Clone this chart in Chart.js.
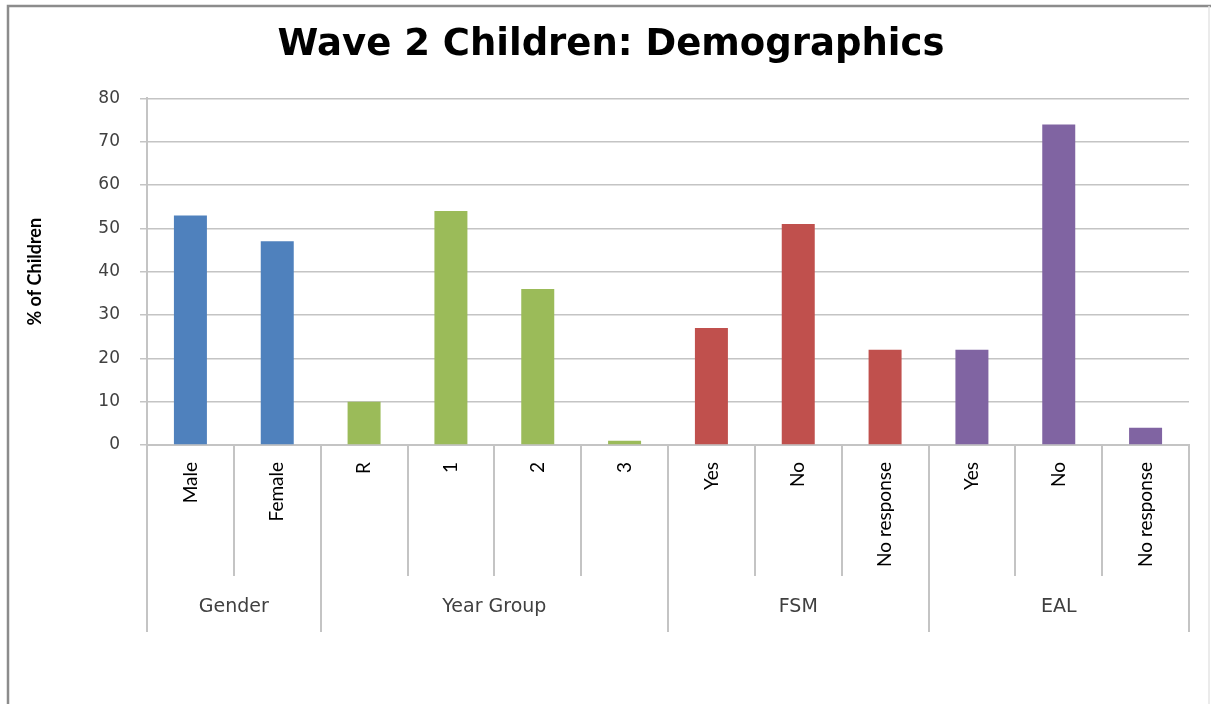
<!DOCTYPE html>
<html>
<head>
<meta charset="utf-8">
<script src="https://cdn.jsdelivr.net/npm/chart.js@4/dist/chart.umd.min.js"></script>
<style>
  html, body { margin: 0; padding: 0; background: #fff; }
  #wrap { width: 1211px; height: 704px; position: relative; }
</style>
</head>
<body>
<div id="wrap"><canvas id="demoChart"></canvas></div>
<script>
const categories = ['Male', 'Female', 'R', '1', '2', '3', 'Yes', 'No', 'No response', 'Yes', 'No', 'No response'];
const values = [53, 47, 10, 54, 36, 1, 27, 51, 22, 22, 74, 4];
const groups = ['Gender', 'Year Group', 'FSM', 'EAL'];
const groupSizes = [2, 4, 3, 3];
const groupColors = ['#4f81bd', '#9bbb59', '#c0504d', '#8064a2'];

// colour of each bar comes from the group it belongs to
const barColors = [];
groupSizes.forEach((n, g) => { for (let i = 0; i < n; i++) barColors.push(groupColors[g]); });

// frame round the whole picture
const framePlugin = {
  id: 'frame',
  afterDraw(chart) {
    const ctx = chart.ctx;
    ctx.save();
    ctx.strokeStyle = '#8c8c8c';
    ctx.lineWidth = 2.5;
    ctx.beginPath();
    ctx.moveTo(8, chart.height);
    ctx.lineTo(8, 6);
    ctx.lineTo(chart.width, 6);
    ctx.stroke();
    ctx.strokeStyle = '#e4e4e4';
    ctx.lineWidth = 1.5;
    ctx.beginPath();
    ctx.moveTo(1209, 6);
    ctx.lineTo(1209, chart.height);
    ctx.stroke();
    ctx.restore();
  }
};

// category separators and the group labels under the x axis
const groupAxisPlugin = {
  id: 'groupAxis',
  afterDraw(chart) {
    const x = chart.scales.x;
    const ctx = chart.ctx;
    const step = x.getPixelForValue(1) - x.getPixelForValue(0);
    const edges = [0];
    groupSizes.forEach(n => edges.push(edges[edges.length - 1] + n));

    ctx.save();
    ctx.strokeStyle = '#c4c4c4';
    ctx.lineWidth = 2;
    for (let i = 0; i <= categories.length; i++) {
      const px = Math.round(x.getPixelForValue(i) - step / 2);
      const long = edges.includes(i);
      ctx.beginPath();
      ctx.moveTo(px, x.top);
      ctx.lineTo(px, x.top + (long ? 187 : 131));
      ctx.stroke();
    }

    ctx.fillStyle = '#404040';
    ctx.font = '19px "DejaVu Sans"';
    ctx.textAlign = 'center';
    ctx.textBaseline = 'middle';
    groups.forEach((g, k) => {
      const a = x.getPixelForValue(edges[k]) - step / 2;
      const b = x.getPixelForValue(edges[k + 1] - 1) + step / 2;
      ctx.fillText(g, (a + b) / 2, x.top + 162);
    });
    ctx.restore();
  }
};

new Chart(document.getElementById('demoChart'), {
  type: 'bar',
  data: {
    labels: categories,
    datasets: [{
      data: values,
      backgroundColor: barColors,
      categoryPercentage: 1,
      barPercentage: 0.38
    }]
  },
  options: {
    responsive: true,
    maintainAspectRatio: false,
    animation: false,
    layout: { padding: { left: 33, right: 22, top: 0, bottom: 0 } },
    plugins: {
      legend: { display: false },
      tooltip: { enabled: false },
      title: {
        display: true,
        text: 'Wave 2 Children: Demographics',
        color: '#000',
        font: { family: '"DejaVu Sans"', size: 37, weight: 'bold' },
        padding: { top: 23, bottom: 31 }
      }
    },
    scales: {
      x: {
        grid: { display: true, drawOnChartArea: false, drawTicks: false },
        border: { display: true, color: '#c4c4c4', width: 2 },
        ticks: {
          autoSkip: false,
          minRotation: 90,
          maxRotation: 90,
          padding: 17,
          color: '#000',
          font: { family: 'Lato', size: 19 }
        },
        afterFit(scale) { scale.height = 259; }
      },
      y: {
        min: 0,
        max: 80,
        ticks: {
          stepSize: 10,
          padding: 20,
          color: '#404040',
          font: { family: '"DejaVu Sans"', size: 17 }
        },
        grid: { color: '#c4c4c4', lineWidth: 1.5, tickLength: 7 },
        border: { display: true, color: '#c4c4c4', width: 2 },
        title: {
          display: true,
          text: '% of Children',
          color: '#000',
          font: { family: 'Lato', size: 18, weight: 'bold' },
          padding: { top: -9, bottom: 0 }
        },
        afterFit(scale) { scale.width = 114; }
      }
    }
  },
  plugins: [framePlugin, groupAxisPlugin]
});
</script>
</body>
</html>
